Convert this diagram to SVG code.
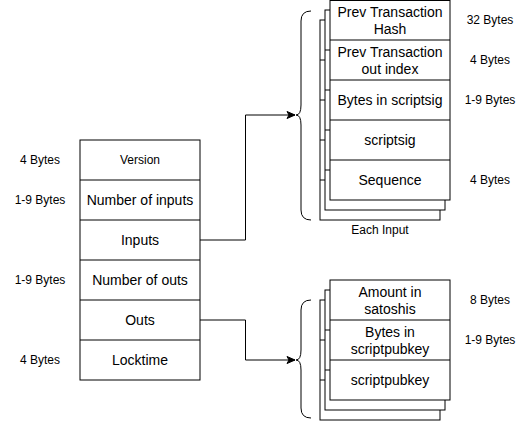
<svg xmlns="http://www.w3.org/2000/svg" width="531" height="421" viewBox="0 0 531 421">
<style>
.box{fill:#fff;stroke:#000;stroke-width:1}
.row{stroke:#000;stroke-width:1}
.t{font-family:"Liberation Sans",Arial,sans-serif;font-size:14px;fill:#000;text-anchor:middle}
.s{font-family:"Liberation Sans",Arial,sans-serif;font-size:12px;fill:#000;text-anchor:middle}
.ln{fill:none;stroke:#000;stroke-width:1}
</style>
<defs>
<marker id="arr" markerWidth="10" markerHeight="10" refX="9" refY="5" orient="auto" markerUnits="userSpaceOnUse">
<path d="M1,1.5 L9,5 L1,8.5 L3,5 Z" fill="#000" stroke="#000" stroke-width="1"/>
</marker>
</defs>
<rect width="531" height="421" fill="#fff"/>

<g id="tx">
<rect class="box" x="80" y="140" width="120" height="240"/>
<line class="row" x1="80" y1="180" x2="200" y2="180"/>
<line class="row" x1="80" y1="220" x2="200" y2="220"/>
<line class="row" x1="80" y1="260" x2="200" y2="260"/>
<line class="row" x1="80" y1="300" x2="200" y2="300"/>
<line class="row" x1="80" y1="340" x2="200" y2="340"/>
<text class="s" x="140" y="164">Version</text>
<text class="t" x="140" y="205">Number of inputs</text>
<text class="t" x="140" y="245">Inputs</text>
<text class="t" x="140" y="285">Number of outs</text>
<text class="t" x="140" y="325">Outs</text>
<text class="t" x="140" y="365">Locktime</text>
</g>
<g id="tx-sizes">
<text class="s" x="40" y="164">4 Bytes</text>
<text class="s" x="40" y="204">1-9 Bytes</text>
<text class="s" x="40" y="284">1-9 Bytes</text>
<text class="s" x="40" y="364">4 Bytes</text>
</g>

<g id="inputs">
<rect class="box" x="320" y="20" width="120" height="200"/>
<line class="row" x1="320" y1="60" x2="440" y2="60"/>
<line class="row" x1="320" y1="100" x2="440" y2="100"/>
<line class="row" x1="320" y1="140" x2="440" y2="140"/>
<line class="row" x1="320" y1="180" x2="440" y2="180"/>
<rect class="box" x="325" y="10" width="120" height="200"/>
<line class="row" x1="325" y1="50" x2="445" y2="50"/>
<line class="row" x1="325" y1="90" x2="445" y2="90"/>
<line class="row" x1="325" y1="130" x2="445" y2="130"/>
<line class="row" x1="325" y1="170" x2="445" y2="170"/>
<rect class="box" x="330" y="0.5" width="120" height="199.5"/>
<line class="row" x1="330" y1="40" x2="450" y2="40"/>
<line class="row" x1="330" y1="80" x2="450" y2="80"/>
<line class="row" x1="330" y1="120" x2="450" y2="120"/>
<line class="row" x1="330" y1="160" x2="450" y2="160"/>
<text class="t" x="390" y="17">Prev Transaction</text>
<text class="t" x="390" y="34">Hash</text>
<text class="t" x="390" y="57">Prev Transaction</text>
<text class="t" x="390" y="74">out index</text>
<text class="t" x="390" y="105">Bytes in scriptsig</text>
<text class="t" x="390" y="145">scriptsig</text>
<text class="t" x="390" y="185">Sequence</text>
<text class="s" x="380" y="234">Each Input</text>
</g>
<g id="input-sizes">
<text class="s" x="490" y="24">32 Bytes</text>
<text class="s" x="490" y="64">4 Bytes</text>
<text class="s" x="490" y="104">1-9 Bytes</text>
<text class="s" x="490" y="184">4 Bytes</text>
</g>

<g id="outs">
<rect class="box" x="320" y="300" width="120" height="120"/>
<line class="row" x1="320" y1="340" x2="440" y2="340"/>
<line class="row" x1="320" y1="380" x2="440" y2="380"/>
<rect class="box" x="325" y="290" width="120" height="120"/>
<line class="row" x1="325" y1="330" x2="445" y2="330"/>
<line class="row" x1="325" y1="370" x2="445" y2="370"/>
<rect class="box" x="330" y="280" width="120" height="120"/>
<line class="row" x1="330" y1="320" x2="450" y2="320"/>
<line class="row" x1="330" y1="360" x2="450" y2="360"/>
<text class="t" x="390" y="297">Amount in</text>
<text class="t" x="390" y="314">satoshis</text>
<text class="t" x="390" y="337">Bytes in</text>
<text class="t" x="390" y="354">scriptpubkey</text>
<text class="t" x="390" y="385">scriptpubkey</text>
</g>
<g id="out-sizes">
<text class="s" x="490" y="304">8 Bytes</text>
<text class="s" x="490" y="344">1-9 Bytes</text>
</g>

<g id="braces">
<path class="ln" d="M311,11 Q301,11 301,21 L301,105 Q301,115 296,115 Q301,115 301,125 L301,210 Q301,220 311,220"/>
<path class="ln" d="M311,300 Q301,300 301,310 L301,350 Q301,360 296,360 Q301,360 301,370 L301,408 Q301,418 311,418"/>
</g>

<g id="connectors">
<path class="ln" d="M200,240 L245.5,240 L245.5,115 L295,115" marker-end="url(#arr)"/>
<path class="ln" d="M200,320 L245.5,320 L245.5,360 L295,360" marker-end="url(#arr)"/>
</g>
</svg>
